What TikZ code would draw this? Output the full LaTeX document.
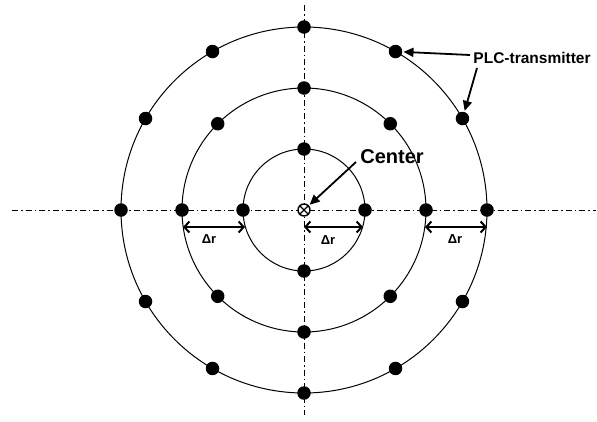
\documentclass[tikz,border=0pt]{standalone}
\usepackage{fontspec}
\setmainfont{Liberation Sans}
\usetikzlibrary{arrows.meta,calc}
\begin{document}
\begin{tikzpicture}[x=1pt,y=-1pt,
  axisline/.style={line width=1pt, dash pattern=on 6pt off 3pt on 1.5pt off 3pt},
  ring/.style={line width=1pt},
  tx/.style={circle, fill=black, inner sep=0pt, minimum size=13.5pt},
  ptr/.style={line width=1.8pt, -{Triangle[length=10pt,width=9pt]}, shorten >=1pt},
  dimarrow/.style={line width=2pt, {Straight Barb[length=5pt,width=11pt]}-{Straight Barb[length=5pt,width=11pt]}},
  dimlbl/.style={font=\bfseries\fontsize{13}{13}\selectfont, inner sep=1pt},
  biglbl/.style={font=\bfseries\fontsize{20}{20}\selectfont, inner sep=0pt},
  midlbl/.style={font=\bfseries\fontsize{15.5}{15.5}\selectfont, inner sep=0pt}]
\useasboundingbox (0,0) rectangle (597,421);
\coordinate (c) at (304,210);
% axes
\coordinate (hl) at (12,210);
\coordinate (hr) at (596,210);
\coordinate (vt) at (304,5);
\coordinate (vb) at (304,415);
\draw[axisline] (hl) -- (hr);
\draw[axisline] (vt) -- (vb);
% rings
\draw[ring] (c) circle[radius=61];
\draw[ring] (c) circle[radius=122];
\draw[ring] (c) circle[radius=183];
% transmitters
\foreach \k in {0,...,11} { \node[tx] (o\k) at ($(c)+(\k*30:183)$) {}; }
\foreach \k in {0,...,7} { \node[tx] (m\k) at ($(c)+(\k*45:122)$) {}; }
\foreach \k in {0,...,3} { \node[tx] (i\k) at ($(c)+(\k*90:61)$) {}; }
% center symbol
\node[circle, draw, fill=white, line width=1.4pt, minimum size=12pt, inner sep=0pt] (ctr) at (c) {};
\draw[line width=1.4pt] (ctr.north west) -- (ctr.south east);
\draw[line width=1.4pt] (ctr.north east) -- (ctr.south west);
% Center label
\node[biglbl] (ctrlbl) at (392,157) {Center};
\coordinate (ca) at (356,162);
\draw[ptr] (ca) -- (ctr);
% PLC label
\node[midlbl] (plc) at (532,58) {PLC-transmitter};
\coordinate (pa) at (470,55);
\coordinate (pb) at (477,68);
\draw[ptr] (pa) -- (o10);
\draw[ptr] (pb) -- (o11);
% delta r dimensions
\coordinate (d1a) at (183,227);
\coordinate (d1b) at (245,227);
\coordinate (d2a) at (304,227);
\coordinate (d2b) at (363,227);
\coordinate (d3a) at (425,227);
\coordinate (d3b) at (487,227);
\draw[dimarrow] (d1a) -- (d1b);
\draw[dimarrow] (d2a) -- (d2b);
\draw[dimarrow] (d3a) -- (d3b);
\node[dimlbl] (r1) at (209,239) {Δr};
\node[dimlbl] (r2) at (328,240) {Δr};
\node[dimlbl] (r3) at (455,239) {Δr};
\end{tikzpicture}
\end{document}
